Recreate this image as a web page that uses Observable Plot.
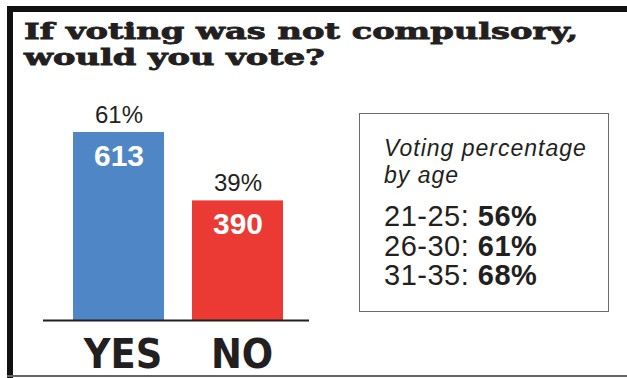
<!DOCTYPE html>
<html>
<head>
<meta charset="utf-8">
<script src="https://cdn.jsdelivr.net/npm/d3@7"></script>
<script src="https://cdn.jsdelivr.net/npm/@observablehq/plot@0.6"></script>
<style>
  html, body { margin: 0; padding: 0; background: #fff; }
  #wrap { position: relative; width: 627px; height: 378px; overflow: hidden; background: #fff; }
  #wrap svg { position: absolute; left: 0; top: 0; }
  .frame-top { position: absolute; left: 7px; top: 6px; width: 620px; height: 6px; background: #111; }
  .frame-left { position: absolute; left: 7px; top: 6px; width: 6px; height: 372px; background: #111; }
  .frame-bottom { position: absolute; left: 7px; top: 375px; width: 620px; height: 2px; background: #666; }
  .tline { position: absolute; left: 24px; margin: 0; font-family: "DejaVu Serif", serif; font-weight: bold;
           font-size: 22px; line-height: 26px; height: 26px; color: #231f20; white-space: nowrap;
           transform: scaleX(1.53); transform-origin: 0 0; -webkit-text-stroke: 0.8px #231f20; }
  #legend { position: absolute; left: 359px; top: 113px; width: 250px; height: 199px; box-sizing: border-box;
            border: 1.5px solid #6a6a6a; }
  #legend .hl { position: absolute; left: 24px; font-family: "Liberation Sans", Arial, sans-serif;
                font-style: italic; font-size: 23px; line-height: 27px; letter-spacing: 1px;
                color: #231f20; white-space: nowrap; }
  #legend .rl { position: absolute; left: 24px; font-family: "Liberation Sans", Arial, sans-serif;
                font-size: 29px; line-height: 29.5px; letter-spacing: 0.5px; color: #231f20; white-space: nowrap; }
  #legend .rl b { font-weight: bold; }
</style>
</head>
<body>
<div id="wrap">
  <div class="frame-top"></div>
  <div class="frame-left"></div>
  <div class="frame-bottom"></div>
  <div id="title"></div>
  <div id="legend"></div>
</div>
<script>
// ---- data ----
const titleLines = ["If voting was not compulsory,", "would you vote?"];
const answers = ["YES", "NO"];
const counts = [613, 390];
const percents = ["61%", "39%"];
const barColors = ["#4f86c6", "#eb3934"];
const legendTitle = ["Voting percentage", "by age"];
const ageGroups = ["21-25", "26-30", "31-35"];
const agePercents = ["56%", "61%", "68%"];

const data = answers.map((a, i) => ({answer: a, count: counts[i], pct: percents[i], color: barColors[i]}));

// ---- title & legend ----
document.getElementById("title").innerHTML =
  titleLines.map((t, i) => `<div class="tline" style="top:${18 + i * 26}px">${t}</div>`).join("");
document.getElementById("legend").innerHTML =
  legendTitle.map((t, i) => `<div class="hl" style="top:${21 + i * 27}px">${t}</div>`).join("") +
  ageGroups.map((g, i) => `<div class="rl" style="top:${88 + i * 29.5}px">${g}: <b>${agePercents[i]}</b></div>`).join("");

// ---- chart ----
const ink = "#231f20";
const chart = Plot.plot({
  width: 627,
  height: 378,
  marginLeft: 43,
  marginRight: 318,
  marginTop: 132,
  marginBottom: 58,
  style: {background: "transparent", overflow: "visible"},
  x: {domain: answers, range: [72, 283.5], paddingInner: 0.233, paddingOuter: 0, axis: null},
  y: {domain: [0, 613], axis: null},
  color: {type: "identity"},
  marks: [
    Plot.barY(data, {x: "answer", y: "count", fill: "color"}),
    Plot.ruleY([0], {stroke: ink, strokeWidth: 2.2}),
    Plot.text(data, {x: "answer", y: "count", text: "pct", lineAnchor: "bottom", dy: -10,
      fontSize: 24, fontFamily: "Liberation Sans, Arial, sans-serif", fill: ink}),
    Plot.text(data, {x: "answer", y: "count", text: d => String(d.count), lineAnchor: "bottom", dy: 33,
      fontSize: 30, fontWeight: "bold", fontFamily: "Liberation Sans, Arial, sans-serif", fill: "white",
      style: "letter-spacing:1.5px"}),
    Plot.text(data, {x: "answer", y: 0, text: "answer", lineAnchor: "bottom", dy: 47, dx: 4,
      fontSize: 41, fontWeight: "bold", fontFamily: "DejaVu Sans Condensed, sans-serif", fill: ink,
      style: "letter-spacing:-1px"})
  ]
});
document.getElementById("wrap").insertBefore(chart, document.getElementById("title"));
</script>
</body>
</html>
